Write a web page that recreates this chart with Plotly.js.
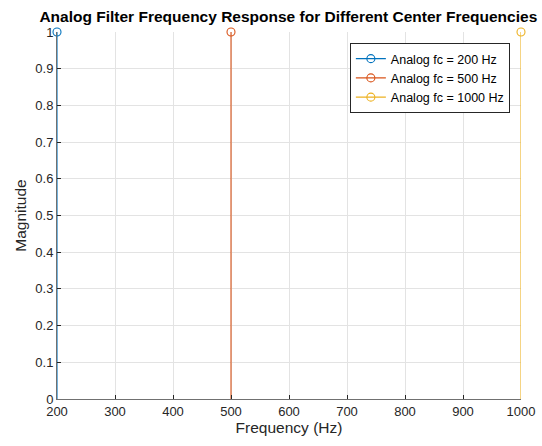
<!DOCTYPE html>
<html>
<head>
<meta charset="utf-8">
<script src="https://cdn.plot.ly/plotly-3.0.1.min.js"></script>
<style>html,body{margin:0;padding:0;background:#fff;}#chart{width:542px;height:446px;}</style>
</head>
<body>
<div id="chart"></div>
<script>
const centerFreqs = [200, 500, 1000];
const stemBase = [0, 0, 0];
const stemTop = [1, 1, 1];
const seriesNames = ['Analog fc = 200 Hz', 'Analog fc = 500 Hz', 'Analog fc = 1000 Hz'];
const seriesColors = ['#0072BD', '#D95319', '#EDB120'];
const xTicks = [200, 300, 400, 500, 600, 700, 800, 900, 1000];
const yTicks = [0, 0.1, 0.2, 0.3, 0.4, 0.5, 0.6, 0.7, 0.8, 0.9, 1];
const yTickLabels = ['0', '0.1', '0.2', '0.3', '0.4', '0.5', '0.6', '0.7', '0.8', '0.9', '1'];

const FONT = 'Liberation Sans, Arial, sans-serif';

const traces = centerFreqs.map((fc, i) => ({
  type: 'scatter',
  mode: 'lines+markers',
  x: [fc, fc],
  y: [stemBase[i], stemTop[i]],
  name: seriesNames[i],
  line: {color: seriesColors[i], width: 1.1},
  marker: {symbol: 'circle-open', size: 8, color: seriesColors[i], line: {width: 1.1, color: seriesColors[i]}},
  selectedpoints: [1],
  selected: {marker: {opacity: 1}},
  unselected: {marker: {opacity: 0}},
  cliponaxis: false
}));

const axisFont = {family: FONT, size: 13, color: '#262626'};

const layout = {
  width: 542, height: 446,
  margin: {l: 57, r: 21, t: 32, b: 47},
  paper_bgcolor: '#fff', plot_bgcolor: '#fff',
  font: {family: FONT, size: 13, color: '#262626'},
  title: {text: '<b>Analog Filter Frequency Response for Different Center Frequencies</b>',
          font: {family: FONT, size: 15.5, color: '#000'},
          x: 0.532, xanchor: 'center', y: 0.962, yanchor: 'middle'},
  xaxis: {range: [200, 1000], tickvals: xTicks, ticktext: xTicks.map(String),
          showgrid: true, gridcolor: '#e3e3e3', gridwidth: 1,
          showline: true, linecolor: '#707070', linewidth: 1,
          ticks: 'inside', ticklen: 4, tickcolor: '#262626',
          tickfont: axisFont, zeroline: false,
          title: {text: 'Frequency (Hz)', font: {family: FONT, size: 15.5, color: '#262626'}, standoff: 3}},
  yaxis: {range: [0, 1], tickvals: yTicks, ticktext: yTickLabels,
          showgrid: true, gridcolor: '#e3e3e3', gridwidth: 1,
          showline: true, linecolor: '#707070', linewidth: 1,
          ticks: 'inside', ticklen: 4, tickcolor: '#262626',
          tickfont: axisFont, zeroline: false,
          title: {text: 'Magnitude', font: {family: FONT, size: 15.5, color: '#262626'}, standoff: 4}},
  legend: {x: 0.976, xanchor: 'right', y: 0.97, yanchor: 'top',
           bgcolor: '#fff', bordercolor: '#262626', borderwidth: 1,
           font: {family: FONT, size: 12.5, color: '#000'},
           tracegroupgap: 0, itemwidth: 30},
  showlegend: true
};

Plotly.newPlot('chart', traces, layout, {displayModeBar: false, staticPlot: true});
</script>
</body>
</html>
